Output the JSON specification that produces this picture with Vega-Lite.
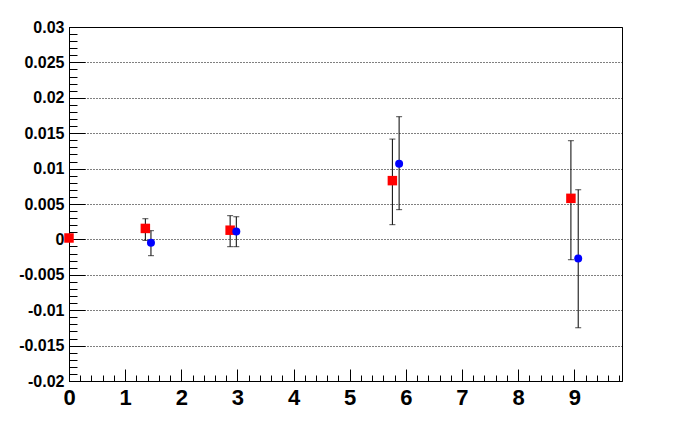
{
  "$schema": "https://vega.github.io/schema/vega-lite/v6.json",
  "width": 553,
  "height": 354,
  "autosize": {"type": "none"},
  "padding": {"left": 69, "top": 27, "right": 70, "bottom": 63},
  "background": "white",
  "config": {
    "view": {"stroke": "black", "strokeWidth": 1},
    "font": "Liberation Sans",
    "axis": {"labelFont": "Liberation Sans", "labelFontWeight": "bold", "labelColor": "black", "domainColor": "black", "tickColor": "black", "title": null}
  },
  "data": {
    "values": [
      {"series": "A", "x": 0.0, "y": 0.0002, "lo": 0.0, "hi": 0.0004},
      {"series": "A", "x": 1.36, "y": 0.00155, "lo": -0.00014, "hi": 0.00292},
      {"series": "A", "x": 2.87, "y": 0.0013, "lo": -0.00103, "hi": 0.00335},
      {"series": "A", "x": 5.76, "y": 0.0083, "lo": 0.00208, "hi": 0.01417},
      {"series": "A", "x": 8.94, "y": 0.0058, "lo": -0.00287, "hi": 0.01394},
      {"series": "B", "x": 1.46, "y": -0.00047, "lo": -0.0023, "hi": 0.00123},
      {"series": "B", "x": 2.98, "y": 0.0011, "lo": -0.00103, "hi": 0.0032},
      {"series": "B", "x": 5.88, "y": 0.0107, "lo": 0.0042, "hi": 0.01733},
      {"series": "B", "x": 9.07, "y": -0.0027, "lo": -0.01247, "hi": 0.00702}
    ]
  },
  "resolve": {"axis": {"x": "independent", "y": "independent"}},
  "layer": [
    {
      "mark": {"type": "rule", "color": "black", "strokeWidth": 1},
      "encoding": {
        "x": {"field": "x", "type": "quantitative",
          "scale": {"domain": [0, 9.85], "nice": false, "zero": false},
          "axis": {"orient": "bottom", "values": [0,1,2,3,4,5,6,7,8,9], "tickSize": -12, "labelFontSize": 22, "labelPadding": 18, "labelBaseline": "top", "grid": false, "labelExpr": "'' + datum.value", "labelFlush": false, "labelOverlap": false}},
        "y": {"field": "lo", "type": "quantitative",
          "scale": {"domain": [-0.02, 0.03], "nice": false, "zero": false},
          "axis": {"orient": "left", "values": [-0.02,-0.015,-0.01,-0.005,0,0.005,0.01,0.015,0.02,0.025,0.03], "tickSize": -16, "labelFontSize": 16, "labelPadding": 21, "grid": true, "gridColor": "black", "gridDash": [1, 2], "gridWidth": 1, "labelExpr": "'' + datum.value", "labelFlush": false, "labelOverlap": false}},
        "y2": {"field": "hi"}
      }
    },
    {
      "mark": {"type": "tick", "orient": "horizontal", "color": "black", "size": 6, "thickness": 1},
      "encoding": {
        "x": {"field": "x", "type": "quantitative", "axis": null},
        "y": {"field": "lo", "type": "quantitative", "axis": null}
      }
    },
    {
      "mark": {"type": "tick", "orient": "horizontal", "color": "black", "size": 6, "thickness": 1},
      "encoding": {
        "x": {"field": "x", "type": "quantitative", "axis": null},
        "y": {"field": "hi", "type": "quantitative", "axis": null}
      }
    },
    {
      "mark": {"type": "point", "filled": true, "opacity": 1, "strokeWidth": 0},
      "encoding": {
        "x": {"field": "x", "type": "quantitative",
          "axis": {"orient": "bottom", "values": [0,0.2,0.4,0.6,0.8,1,1.2,1.4,1.6,1.8,2,2.2,2.4,2.6,2.8,3,3.2,3.4,3.6,3.8,4,4.2,4.4,4.6,4.8,5,5.2,5.4,5.6,5.8,6,6.2,6.4,6.6,6.8,7,7.2,7.4,7.6,7.8,8,8.2,8.4,8.6,8.8,9,9.2,9.4,9.6,9.8], "tickSize": -6, "labels": false, "domain": false, "grid": false}},
        "y": {"field": "y", "type": "quantitative",
          "axis": {"orient": "left", "values": [-0.02,-0.019,-0.018,-0.017,-0.016,-0.015,-0.014,-0.013,-0.012,-0.011,-0.01,-0.009,-0.008,-0.007,-0.006,-0.005,-0.004,-0.003,-0.002,-0.001,0,0.001,0.002,0.003,0.004,0.005,0.006,0.007,0.008,0.009,0.01,0.011,0.012,0.013,0.014,0.015,0.016,0.017,0.018,0.019,0.02,0.021,0.022,0.023,0.024,0.025,0.026,0.027,0.028,0.029,0.03], "tickSize": -8, "labels": false, "domain": false, "grid": false}},
        "shape": {"field": "series", "type": "nominal", "scale": {"domain": ["A", "B"], "range": ["square", "circle"]}, "legend": null},
        "size": {"field": "series", "type": "nominal", "scale": {"domain": ["A", "B"], "range": [90, 64]}, "legend": null},
        "color": {"field": "series", "type": "nominal", "scale": {"domain": ["A", "B"], "range": ["#ff0000", "#0000ff"]}, "legend": null}
      }
    }
  ]
}
